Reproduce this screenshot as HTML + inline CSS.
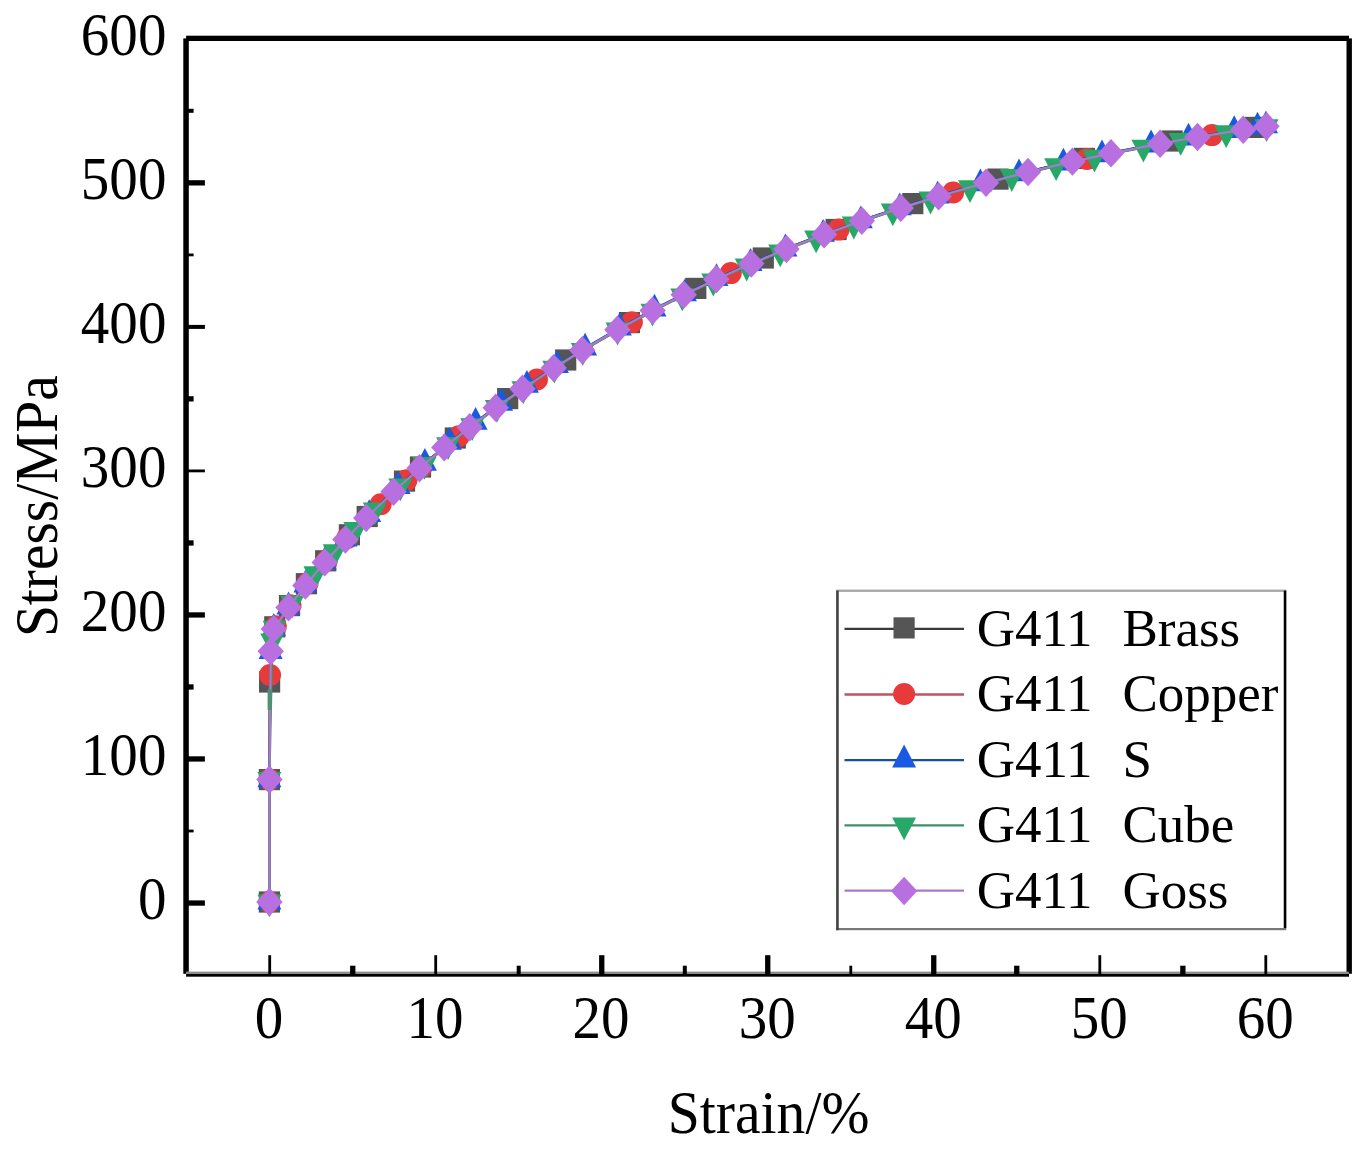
<!DOCTYPE html>
<html><head><meta charset="utf-8"><title>Stress-Strain</title>
<style>
html,body{margin:0;padding:0;background:#fff;}
body{width:1368px;height:1153px;overflow:hidden;}
svg{display:block;}
text{font-family:"Liberation Serif","Times New Roman",serif;fill:#000;}
.ax{font-size:61px;}
.lg{font-size:53px;}
</style></head><body>
<svg width="1368" height="1153" viewBox="0 0 1368 1153">
<rect x="0" y="0" width="1368" height="1153" fill="#ffffff"/>

<g id="brass">
<path d="M269.4 902.0 L269.4 779.6 L269.6 682.0 L274.8 626.8 L289.5 605.6 L306.4 583.7 L325.7 560.8 L349.4 534.8 L367.2 516.5 L404.5 481.1 L420.5 467.0 L455.3 438.0 L470.7 426.0 L507.7 398.6 L523.5 387.6 L565.7 360.0 L583.3 349.1 L629.4 322.6 L653.6 309.6 L695.8 288.4 L717.3 278.3 L763.3 258.0 L787.4 248.1 L836.1 229.5 L862.8 220.0 L912.8 203.6 L939.6 195.4 L998.0 179.1 L1029.0 171.3 L1084.4 158.4 L1112.0 152.6 L1172.1 141.0 L1198.5 136.4 L1255.2 127.4 L1267.5 125.6" fill="none" stroke="#3a3a3a" stroke-width="2.2" stroke-linejoin="round"/>
<rect x="258.8" y="891.4" width="21.2" height="21.2" fill="#555555"/>
<rect x="258.8" y="769.0" width="21.2" height="21.2" fill="#555555"/>
<rect x="259.0" y="671.4" width="21.2" height="21.2" fill="#555555"/>
<rect x="264.2" y="616.2" width="21.2" height="21.2" fill="#555555"/>
<rect x="278.9" y="595.0" width="21.2" height="21.2" fill="#555555"/>
<rect x="295.8" y="573.1" width="21.2" height="21.2" fill="#555555"/>
<rect x="315.1" y="550.2" width="21.2" height="21.2" fill="#555555"/>
<rect x="338.8" y="524.2" width="21.2" height="21.2" fill="#555555"/>
<rect x="356.6" y="505.9" width="21.2" height="21.2" fill="#555555"/>
<rect x="393.9" y="470.5" width="21.2" height="21.2" fill="#555555"/>
<rect x="409.9" y="456.4" width="21.2" height="21.2" fill="#555555"/>
<rect x="444.7" y="427.4" width="21.2" height="21.2" fill="#555555"/>
<rect x="497.1" y="388.0" width="21.2" height="21.2" fill="#555555"/>
<rect x="555.1" y="349.4" width="21.2" height="21.2" fill="#555555"/>
<rect x="618.8" y="312.0" width="21.2" height="21.2" fill="#555555"/>
<rect x="685.2" y="277.8" width="21.2" height="21.2" fill="#555555"/>
<rect x="752.7" y="247.4" width="21.2" height="21.2" fill="#555555"/>
<rect x="825.5" y="218.9" width="21.2" height="21.2" fill="#555555"/>
<rect x="902.2" y="193.0" width="21.2" height="21.2" fill="#555555"/>
<rect x="987.4" y="168.5" width="21.2" height="21.2" fill="#555555"/>
<rect x="1073.8" y="147.8" width="21.2" height="21.2" fill="#555555"/>
<rect x="1161.5" y="130.4" width="21.2" height="21.2" fill="#555555"/>
<rect x="1244.6" y="116.8" width="21.2" height="21.2" fill="#555555"/>
</g>
<g id="copper">
<path d="M269.4 902.0 L269.4 779.6 L270.0 675.0 L275.8 626.2 L290.5 605.2 L307.4 583.5 L326.7 560.7 L347.4 537.9 L380.7 504.3 L406.5 480.3 L421.5 467.1 L458.8 436.3 L471.7 426.2 L497.7 406.8 L537.0 379.5 L555.7 367.3 L584.3 349.5 L631.9 322.2 L654.6 310.1 L685.8 294.3 L730.8 273.1 L753.3 263.3 L788.4 248.7 L838.6 229.6 L863.8 220.7 L902.8 207.7 L953.1 192.5 L988.0 182.8 L1030.0 172.0 L1086.9 158.9 L1113.0 153.4 L1162.1 143.8 L1212.0 135.1 L1245.2 129.9 L1268.0 126.5" fill="none" stroke="#c4505e" stroke-width="2.2" stroke-linejoin="round"/>
<circle cx="269.4" cy="902.0" r="11.0" fill="#e83a3a"/>
<circle cx="269.4" cy="779.6" r="11.0" fill="#e83a3a"/>
<circle cx="270.0" cy="675.0" r="11.0" fill="#e83a3a"/>
<circle cx="275.8" cy="626.2" r="11.0" fill="#e83a3a"/>
<circle cx="290.5" cy="605.2" r="11.0" fill="#e83a3a"/>
<circle cx="307.4" cy="583.5" r="11.0" fill="#e83a3a"/>
<circle cx="326.7" cy="560.7" r="11.0" fill="#e83a3a"/>
<circle cx="347.4" cy="537.9" r="11.0" fill="#e83a3a"/>
<circle cx="380.7" cy="504.3" r="11.0" fill="#e83a3a"/>
<circle cx="406.5" cy="480.3" r="11.0" fill="#e83a3a"/>
<circle cx="421.5" cy="467.1" r="11.0" fill="#e83a3a"/>
<circle cx="458.8" cy="436.3" r="11.0" fill="#e83a3a"/>
<circle cx="537.0" cy="379.5" r="11.0" fill="#e83a3a"/>
<circle cx="631.9" cy="322.2" r="11.0" fill="#e83a3a"/>
<circle cx="730.8" cy="273.1" r="11.0" fill="#e83a3a"/>
<circle cx="838.6" cy="229.6" r="11.0" fill="#e83a3a"/>
<circle cx="953.1" cy="192.5" r="11.0" fill="#e83a3a"/>
<circle cx="1086.9" cy="158.9" r="11.0" fill="#e83a3a"/>
<circle cx="1212.0" cy="135.1" r="11.0" fill="#e83a3a"/>
</g>
<g id="s">
<path d="M269.4 902.0 L269.4 779.6 L270.6 651.3 L273.8 628.3 L288.5 606.8 L305.4 584.9 L324.7 561.8 L345.5 538.9 L369.2 514.4 L398.6 486.4 L424.9 463.1 L449.9 442.2 L475.6 422.1 L501.1 403.2 L526.9 385.2 L556.9 365.4 L585.1 348.0 L619.8 327.8 L654.5 309.0 L684.9 293.6 L716.5 278.5 L750.5 263.3 L785.4 248.8 L823.1 234.2 L860.8 220.6 L899.8 207.6 L937.6 195.9 L980.4 183.7 L1019.0 173.7 L1063.4 163.0 L1102.0 154.6 L1151.1 144.8 L1188.5 138.0 L1234.2 130.5 L1257.5 126.9 L1266.0 125.7" fill="none" stroke="#1550a8" stroke-width="2.2" stroke-linejoin="round"/>
<path d="M269.4 886.8L281.4 909.6L257.4 909.6Z" fill="#1a5ae0"/>
<path d="M269.4 764.4L281.4 787.2L257.4 787.2Z" fill="#1a5ae0"/>
<path d="M270.6 636.1L282.6 658.9L258.6 658.9Z" fill="#1a5ae0"/>
<path d="M273.8 613.1L285.8 635.9L261.8 635.9Z" fill="#1a5ae0"/>
<path d="M288.5 591.6L300.5 614.4L276.5 614.4Z" fill="#1a5ae0"/>
<path d="M305.4 569.7L317.4 592.5L293.4 592.5Z" fill="#1a5ae0"/>
<path d="M324.7 546.6L336.7 569.4L312.7 569.4Z" fill="#1a5ae0"/>
<path d="M345.5 523.7L357.5 546.5L333.5 546.5Z" fill="#1a5ae0"/>
<path d="M369.2 499.2L381.2 522.0L357.2 522.0Z" fill="#1a5ae0"/>
<path d="M398.6 471.2L410.6 494.0L386.6 494.0Z" fill="#1a5ae0"/>
<path d="M424.9 447.9L436.9 470.7L412.9 470.7Z" fill="#1a5ae0"/>
<path d="M449.9 427.0L461.9 449.8L437.9 449.8Z" fill="#1a5ae0"/>
<path d="M475.6 406.9L487.6 429.7L463.6 429.7Z" fill="#1a5ae0"/>
<path d="M501.1 388.0L513.1 410.8L489.1 410.8Z" fill="#1a5ae0"/>
<path d="M526.9 370.0L538.9 392.8L514.9 392.8Z" fill="#1a5ae0"/>
<path d="M556.9 350.2L568.9 373.0L544.9 373.0Z" fill="#1a5ae0"/>
<path d="M585.1 332.8L597.1 355.6L573.1 355.6Z" fill="#1a5ae0"/>
<path d="M619.8 312.6L631.8 335.4L607.8 335.4Z" fill="#1a5ae0"/>
<path d="M654.5 293.8L666.5 316.6L642.5 316.6Z" fill="#1a5ae0"/>
<path d="M684.9 278.4L696.9 301.2L672.9 301.2Z" fill="#1a5ae0"/>
<path d="M716.5 263.3L728.5 286.1L704.5 286.1Z" fill="#1a5ae0"/>
<path d="M750.5 248.1L762.5 270.9L738.5 270.9Z" fill="#1a5ae0"/>
<path d="M785.4 233.6L797.4 256.4L773.4 256.4Z" fill="#1a5ae0"/>
<path d="M823.1 219.0L835.1 241.8L811.1 241.8Z" fill="#1a5ae0"/>
<path d="M860.8 205.4L872.8 228.2L848.8 228.2Z" fill="#1a5ae0"/>
<path d="M899.8 192.4L911.8 215.2L887.8 215.2Z" fill="#1a5ae0"/>
<path d="M937.6 180.7L949.6 203.5L925.6 203.5Z" fill="#1a5ae0"/>
<path d="M980.4 168.5L992.4 191.3L968.4 191.3Z" fill="#1a5ae0"/>
<path d="M1019.0 158.5L1031.0 181.3L1007.0 181.3Z" fill="#1a5ae0"/>
<path d="M1063.4 147.8L1075.4 170.6L1051.4 170.6Z" fill="#1a5ae0"/>
<path d="M1102.0 139.4L1114.0 162.2L1090.0 162.2Z" fill="#1a5ae0"/>
<path d="M1151.1 129.6L1163.1 152.4L1139.1 152.4Z" fill="#1a5ae0"/>
<path d="M1188.5 122.8L1200.5 145.6L1176.5 145.6Z" fill="#1a5ae0"/>
<path d="M1234.2 115.3L1246.2 138.1L1222.2 138.1Z" fill="#1a5ae0"/>
<path d="M1257.5 111.7L1269.5 134.5L1245.5 134.5Z" fill="#1a5ae0"/>
<path d="M1266.0 110.5L1278.0 133.3L1254.0 133.3Z" fill="#1a5ae0"/>
</g>
<g id="cube">
<path d="M269.4 902.0 L269.4 779.6 L272.3 641.0 L274.6 628.3 L292.2 603.0 L315.4 573.9 L334.7 551.8 L355.4 529.7 L374.8 510.1 L400.3 486.1 L424.5 464.6 L448.1 444.9 L472.2 425.9 L496.9 407.5 L523.4 388.8 L554.3 368.3 L582.8 350.6 L617.6 330.2 L652.5 311.3 L682.3 296.1 L713.3 281.2 L746.7 266.2 L780.2 252.1 L816.1 238.0 L853.8 224.2 L892.8 211.0 L930.6 199.2 L970.0 187.8 L1011.8 176.7 L1056.1 165.9 L1094.5 157.3 L1143.4 147.4 L1180.7 140.6 L1226.2 132.9 L1266.5 126.8" fill="none" stroke="#3f9068" stroke-width="2.2" stroke-linejoin="round"/>
<path d="M269.4 917.2L281.4 894.4L257.4 894.4Z" fill="#28a868"/>
<path d="M269.4 794.8L281.4 772.0L257.4 772.0Z" fill="#28a868"/>
<path d="M272.3 656.2L284.3 633.4L260.3 633.4Z" fill="#28a868"/>
<path d="M274.6 643.5L286.6 620.7L262.6 620.7Z" fill="#28a868"/>
<path d="M292.2 618.2L304.2 595.4L280.2 595.4Z" fill="#28a868"/>
<path d="M315.4 589.1L327.4 566.3L303.4 566.3Z" fill="#28a868"/>
<path d="M334.7 567.0L346.7 544.2L322.7 544.2Z" fill="#28a868"/>
<path d="M355.4 544.9L367.4 522.1L343.4 522.1Z" fill="#28a868"/>
<path d="M374.8 525.3L386.8 502.5L362.8 502.5Z" fill="#28a868"/>
<path d="M400.3 501.3L412.3 478.5L388.3 478.5Z" fill="#28a868"/>
<path d="M424.5 479.8L436.5 457.0L412.5 457.0Z" fill="#28a868"/>
<path d="M448.1 460.1L460.1 437.3L436.1 437.3Z" fill="#28a868"/>
<path d="M472.2 441.1L484.2 418.3L460.2 418.3Z" fill="#28a868"/>
<path d="M496.9 422.7L508.9 399.9L484.9 399.9Z" fill="#28a868"/>
<path d="M523.4 404.0L535.4 381.2L511.4 381.2Z" fill="#28a868"/>
<path d="M554.3 383.5L566.3 360.7L542.3 360.7Z" fill="#28a868"/>
<path d="M582.8 365.8L594.8 343.0L570.8 343.0Z" fill="#28a868"/>
<path d="M617.6 345.4L629.6 322.6L605.6 322.6Z" fill="#28a868"/>
<path d="M652.5 326.5L664.5 303.7L640.5 303.7Z" fill="#28a868"/>
<path d="M682.3 311.3L694.3 288.5L670.3 288.5Z" fill="#28a868"/>
<path d="M713.3 296.4L725.3 273.6L701.3 273.6Z" fill="#28a868"/>
<path d="M746.7 281.4L758.7 258.6L734.7 258.6Z" fill="#28a868"/>
<path d="M780.2 267.3L792.2 244.5L768.2 244.5Z" fill="#28a868"/>
<path d="M816.1 253.2L828.1 230.4L804.1 230.4Z" fill="#28a868"/>
<path d="M853.8 239.4L865.8 216.6L841.8 216.6Z" fill="#28a868"/>
<path d="M892.8 226.2L904.8 203.4L880.8 203.4Z" fill="#28a868"/>
<path d="M930.6 214.4L942.6 191.6L918.6 191.6Z" fill="#28a868"/>
<path d="M970.0 203.0L982.0 180.2L958.0 180.2Z" fill="#28a868"/>
<path d="M1011.8 191.9L1023.8 169.1L999.8 169.1Z" fill="#28a868"/>
<path d="M1056.1 181.1L1068.1 158.3L1044.1 158.3Z" fill="#28a868"/>
<path d="M1094.5 172.5L1106.5 149.7L1082.5 149.7Z" fill="#28a868"/>
<path d="M1143.4 162.6L1155.4 139.8L1131.4 139.8Z" fill="#28a868"/>
<path d="M1180.7 155.8L1192.7 133.0L1168.7 133.0Z" fill="#28a868"/>
<path d="M1226.2 148.1L1238.2 125.3L1214.2 125.3Z" fill="#28a868"/>
<path d="M1266.5 142.0L1278.5 119.2L1254.5 119.2Z" fill="#28a868"/>
</g>
<g id="goss">
<path d="M269.4 902.0 L269.4 779.6 L270.7 651.3 L273.8 628.9 L288.5 607.4 L305.4 585.5 L324.7 562.4 L345.4 539.5 L366.2 518.0 L393.5 491.7 L419.5 468.3 L444.3 447.4 L469.7 427.2 L495.7 407.8 L522.5 388.8 L553.7 368.1 L582.3 350.3 L617.4 329.8 L652.6 310.6 L683.8 294.7 L716.3 279.2 L751.3 263.6 L786.4 249.0 L824.1 234.4 L861.8 220.8 L900.8 207.9 L938.6 196.2 L986.0 182.8 L1028.0 172.0 L1072.4 161.6 L1111.0 153.3 L1160.1 143.7 L1197.5 137.0 L1243.2 129.7 L1266.5 126.2" fill="none" stroke="#a97acb" stroke-width="2.2" stroke-linejoin="round"/>
<path d="M269.4 887.8L282.6 902.0L269.4 916.2L256.2 902.0Z" fill="#b870e0"/>
<path d="M269.4 765.4L282.6 779.6L269.4 793.8L256.2 779.6Z" fill="#b870e0"/>
<path d="M270.7 637.1L283.9 651.3L270.7 665.5L257.5 651.3Z" fill="#b870e0"/>
<path d="M273.8 614.7L287.0 628.9L273.8 643.1L260.6 628.9Z" fill="#b870e0"/>
<path d="M288.5 593.2L301.7 607.4L288.5 621.6L275.3 607.4Z" fill="#b870e0"/>
<path d="M305.4 571.3L318.6 585.5L305.4 599.7L292.2 585.5Z" fill="#b870e0"/>
<path d="M324.7 548.2L337.9 562.4L324.7 576.6L311.5 562.4Z" fill="#b870e0"/>
<path d="M345.4 525.3L358.6 539.5L345.4 553.7L332.2 539.5Z" fill="#b870e0"/>
<path d="M366.2 503.8L379.4 518.0L366.2 532.2L353.0 518.0Z" fill="#b870e0"/>
<path d="M393.5 477.5L406.7 491.7L393.5 505.9L380.3 491.7Z" fill="#b870e0"/>
<path d="M419.5 454.1L432.7 468.3L419.5 482.5L406.3 468.3Z" fill="#b870e0"/>
<path d="M444.3 433.2L457.5 447.4L444.3 461.6L431.1 447.4Z" fill="#b870e0"/>
<path d="M469.7 413.0L482.9 427.2L469.7 441.4L456.5 427.2Z" fill="#b870e0"/>
<path d="M495.7 393.6L508.9 407.8L495.7 422.0L482.5 407.8Z" fill="#b870e0"/>
<path d="M522.5 374.6L535.7 388.8L522.5 403.0L509.3 388.8Z" fill="#b870e0"/>
<path d="M553.7 353.9L566.9 368.1L553.7 382.3L540.5 368.1Z" fill="#b870e0"/>
<path d="M582.3 336.1L595.5 350.3L582.3 364.5L569.1 350.3Z" fill="#b870e0"/>
<path d="M617.4 315.6L630.6 329.8L617.4 344.0L604.2 329.8Z" fill="#b870e0"/>
<path d="M652.6 296.4L665.8 310.6L652.6 324.8L639.4 310.6Z" fill="#b870e0"/>
<path d="M683.8 280.5L697.0 294.7L683.8 308.9L670.6 294.7Z" fill="#b870e0"/>
<path d="M716.3 265.0L729.5 279.2L716.3 293.4L703.1 279.2Z" fill="#b870e0"/>
<path d="M751.3 249.4L764.5 263.6L751.3 277.8L738.1 263.6Z" fill="#b870e0"/>
<path d="M786.4 234.8L799.6 249.0L786.4 263.2L773.2 249.0Z" fill="#b870e0"/>
<path d="M824.1 220.2L837.3 234.4L824.1 248.6L810.9 234.4Z" fill="#b870e0"/>
<path d="M861.8 206.6L875.0 220.8L861.8 235.0L848.6 220.8Z" fill="#b870e0"/>
<path d="M900.8 193.7L914.0 207.9L900.8 222.1L887.6 207.9Z" fill="#b870e0"/>
<path d="M938.6 182.0L951.8 196.2L938.6 210.4L925.4 196.2Z" fill="#b870e0"/>
<path d="M986.0 168.6L999.2 182.8L986.0 197.0L972.8 182.8Z" fill="#b870e0"/>
<path d="M1028.0 157.8L1041.2 172.0L1028.0 186.2L1014.8 172.0Z" fill="#b870e0"/>
<path d="M1072.4 147.4L1085.6 161.6L1072.4 175.8L1059.2 161.6Z" fill="#b870e0"/>
<path d="M1111.0 139.1L1124.2 153.3L1111.0 167.5L1097.8 153.3Z" fill="#b870e0"/>
<path d="M1160.1 129.5L1173.3 143.7L1160.1 157.9L1146.9 143.7Z" fill="#b870e0"/>
<path d="M1197.5 122.8L1210.7 137.0L1197.5 151.2L1184.3 137.0Z" fill="#b870e0"/>
<path d="M1243.2 115.5L1256.4 129.7L1243.2 143.9L1230.0 129.7Z" fill="#b870e0"/>
<path d="M1266.5 112.0L1279.7 126.2L1266.5 140.4L1253.3 126.2Z" fill="#b870e0"/>
</g>
<rect x="267.6" y="689" width="4.4" height="21" fill="#4f9077"/>
<g id="frame" fill="#000">
<rect x="186.1" y="35.7" width="1162.9" height="5.3"/>
<rect x="183.3" y="38.4" width="5.5" height="935.4"/>
<rect x="1346.5" y="38.4" width="5.4" height="935.4"/>
<rect x="186.1" y="971.6" width="1162.9" height="2.6" fill="#8c8c8c"/>
<rect x="186.1" y="974.0" width="1162.9" height="2.7"/>
</g>
<g id="ticks" fill="#000"><rect x="268.3" y="955.2" width="2.8" height="19.8"/><rect x="350.1" y="965.7" width="5.3" height="9.3"/><rect x="434.3" y="955.2" width="2.8" height="19.8"/><rect x="516.7" y="965.7" width="4.0" height="9.3"/><rect x="599.1" y="955.2" width="5.3" height="19.8"/><rect x="682.8" y="965.7" width="4.0" height="9.3"/><rect x="765.1" y="955.2" width="5.3" height="19.8"/><rect x="849.4" y="965.7" width="2.8" height="9.3"/><rect x="931.1" y="955.2" width="5.3" height="19.8"/><rect x="1014.1" y="965.7" width="5.3" height="9.3"/><rect x="1098.4" y="955.2" width="2.8" height="19.8"/><rect x="1180.2" y="965.7" width="5.3" height="9.3"/><rect x="1264.4" y="955.2" width="2.8" height="19.8"/><rect x="186" y="900.4" width="18.9" height="5.3"/><rect x="186" y="829.6" width="7.6" height="2.8"/><rect x="186" y="756.3" width="18.9" height="5.3"/><rect x="186" y="684.3" width="7.6" height="5.3"/><rect x="186" y="612.3" width="18.9" height="5.3"/><rect x="186" y="540.3" width="7.6" height="5.3"/><rect x="186" y="469.5" width="18.9" height="2.8"/><rect x="186" y="396.2" width="7.6" height="5.3"/><rect x="186" y="324.9" width="18.9" height="4.0"/><rect x="186" y="253.5" width="7.6" height="2.8"/><rect x="186" y="180.2" width="18.9" height="5.3"/><rect x="186" y="108.8" width="7.6" height="4.0"/></g>
<text class="ax" text-anchor="middle" transform="translate(269.1 1037.9) scale(0.935 1)">0</text>
<text class="ax" text-anchor="middle" transform="translate(435.1 1037.9) scale(0.935 1)">10</text>
<text class="ax" text-anchor="middle" transform="translate(601.1 1037.9) scale(0.935 1)">20</text>
<text class="ax" text-anchor="middle" transform="translate(767.2 1037.9) scale(0.935 1)">30</text>
<text class="ax" text-anchor="middle" transform="translate(933.2 1037.9) scale(0.935 1)">40</text>
<text class="ax" text-anchor="middle" transform="translate(1099.2 1037.9) scale(0.935 1)">50</text>
<text class="ax" text-anchor="middle" transform="translate(1265.2 1037.9) scale(0.935 1)">60</text>
<text class="ax" text-anchor="end" transform="translate(166.4 919.3) scale(0.935 1)">0</text>
<text class="ax" text-anchor="end" transform="translate(166.4 775.3) scale(0.935 1)">100</text>
<text class="ax" text-anchor="end" transform="translate(166.4 631.2) scale(0.935 1)">200</text>
<text class="ax" text-anchor="end" transform="translate(166.4 487.2) scale(0.935 1)">300</text>
<text class="ax" text-anchor="end" transform="translate(166.4 343.2) scale(0.935 1)">400</text>
<text class="ax" text-anchor="end" transform="translate(166.4 199.2) scale(0.935 1)">500</text>
<text class="ax" text-anchor="end" transform="translate(166.4 55.1) scale(0.935 1)">600</text>
<text class="ax" text-anchor="middle" transform="translate(768.6 1132.6) scale(0.945 1)">Strain/%</text>
<text class="ax" text-anchor="middle" transform="translate(57 506.2) rotate(-90) scale(0.942 1)">Stress/MPa</text>
<g id="legendbox">
<rect x="836.1" y="589.6" width="450.2" height="340.6" fill="#fff"/>
<rect x="836.1" y="589.6" width="450.2" height="2.3" fill="#a6a6a6"/>
<rect x="836.1" y="928.0" width="450.2" height="2.2" fill="#777"/>
<rect x="836.1" y="590.6" width="2.65" height="339.6" fill="#444"/>
<rect x="1283.75" y="590.6" width="2.6" height="337.4" fill="#000"/>
</g>
<line x1="844.5" y1="628.9" x2="964" y2="628.9" stroke="#3a3a3a" stroke-width="2.3"/>
<rect x="893.5" y="617.3" width="21.2" height="21.2" fill="#555555"/>
<text class="lg" x="976.8" y="645.9">G411</text>
<text class="lg" x="1122.4" y="645.9">Brass</text>
<line x1="844.5" y1="694.5" x2="964" y2="694.5" stroke="#c4505e" stroke-width="2.3"/>
<circle cx="904.1" cy="694.0" r="11.0" fill="#e83a3a"/>
<text class="lg" x="976.8" y="711.4">G411</text>
<text class="lg" x="1122.4" y="711.4">Copper</text>
<line x1="844.5" y1="760.1" x2="964" y2="760.1" stroke="#1550a8" stroke-width="2.3"/>
<path d="M904.1 744.6L916.1 767.4L892.1 767.4Z" fill="#1a5ae0"/>
<text class="lg" x="976.8" y="776.9">G411</text>
<text class="lg" x="1122.4" y="776.9">S</text>
<line x1="844.5" y1="825.4" x2="964" y2="825.4" stroke="#3f9068" stroke-width="2.3"/>
<path d="M904.1 840.2L916.1 817.4L892.1 817.4Z" fill="#28a868"/>
<text class="lg" x="976.8" y="842.4">G411</text>
<text class="lg" x="1122.4" y="842.4">Cube</text>
<line x1="844.5" y1="890.7" x2="964" y2="890.7" stroke="#a97acb" stroke-width="2.3"/>
<path d="M904.1 876.8L917.3 891.0L904.1 905.2L890.9 891.0Z" fill="#b870e0"/>
<text class="lg" x="976.8" y="907.9">G411</text>
<text class="lg" x="1122.4" y="907.9">Goss</text>
</svg></body></html>
